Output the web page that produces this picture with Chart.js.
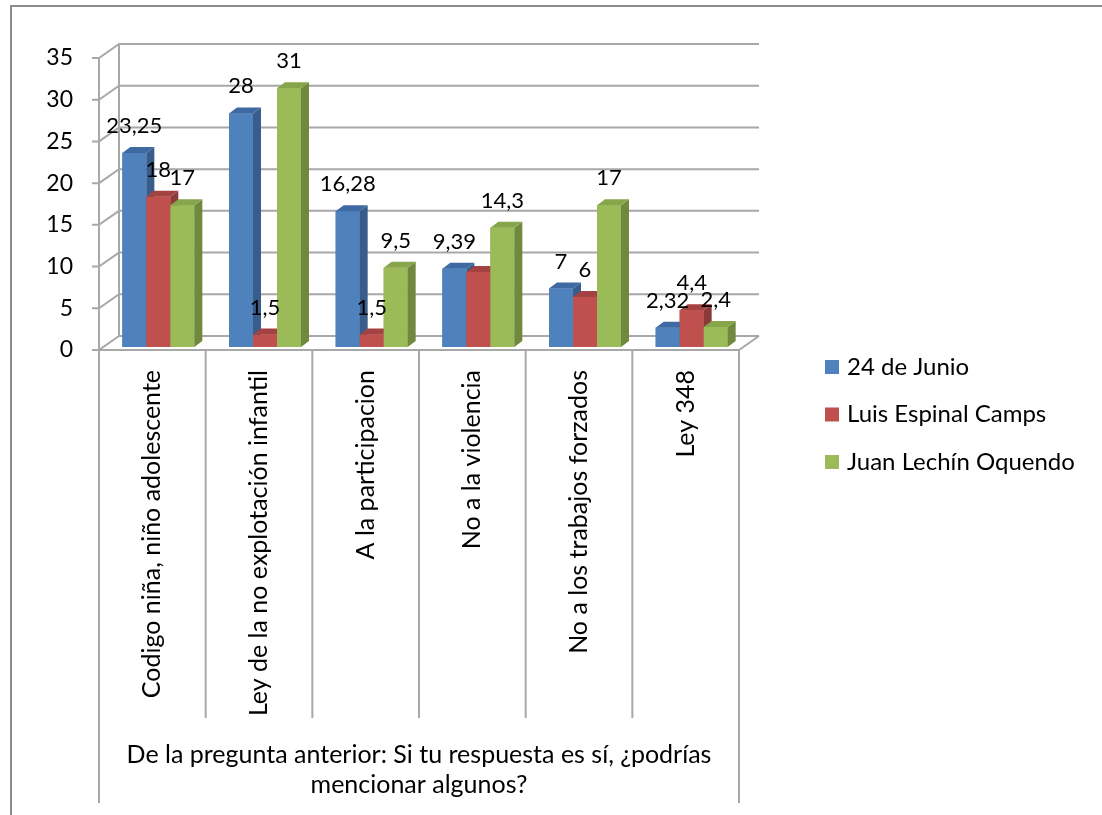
<!DOCTYPE html>
<html>
<head>
<meta charset="utf-8">
<script src="https://cdn.jsdelivr.net/npm/chart.js@4.4.1/dist/chart.umd.min.js"></script>
<style>
  body { margin: 0; background: #fff; }
</style>
</head>
<body>
<canvas id="myChart" width="1102" height="815"></canvas>
<script>
const categories = [
    'Codigo niña, niño adolescente',
    'Ley de la no explotación infantil',
    'A la participacion',
    'No a la violencia',
    'No a los trabajos forzados',
    'Ley 348',
];
const seriesNames = ['24 de Junio', 'Luis Espinal Camps', 'Juan Lechín Oquendo'];
const junioValues = [23.25, 28, 16.28, 9.39, 7, 2.32];
const espinalValues = [18, 1.5, 1.5, 9, 6, 4.4];
const lechinValues = [17, 31, 9.5, 14.3, 17, 2.4];
// the red bar of "No a la violencia" has no value label in the original
const espinalLabelShown = [true, true, true, false, true, true];
const yTicks = [0, 5, 10, 15, 20, 25, 30, 35];
const axisTitle = ['De la pregunta anterior: Si tu respuesta es sí, ¿podrías', 'mencionar algunos?'];

const frontColors = ['#4F81BD', '#C0504D', '#9BBB59'];
const sideColors = ['#385D8A', '#8C3A38', '#71893F'];
const topColors = ['#3E69A2', '#A34240', '#87A54B'];

const FONT = 'Lato, "Open Sans", sans-serif';
const GRID = '#a8a8a8';

// 3d look
const DX = 20, DY = -14;      // depth of walls / floor
const BDX = 8, BDY = -6;      // depth of bars
const SHIFT_X = 6, SHIFT_Y = -3;

function fmt(v) {
    return String(v).replace('.', ',');
}

const walls = {
    id: 'walls',
    beforeDatasetsDraw(chart) {
        const { ctx, chartArea: a, scales: { y } } = chart;
        ctx.save();

        // frame of the chart
        ctx.strokeStyle = '#8c8c8c';
        ctx.lineWidth = 2;
        ctx.beginPath();
        ctx.moveTo(11, 815);
        ctx.lineTo(11, 6);
        ctx.lineTo(1102, 6);
        ctx.stroke();

        ctx.strokeStyle = GRID;
        ctx.lineWidth = 2;
        ctx.beginPath();
        y.ticks.forEach(t => {
            const yF = y.getPixelForValue(t.value);
            ctx.moveTo(a.left - 7, yF);
            ctx.lineTo(a.left, yF);
            ctx.lineTo(a.left + DX, yF + DY);
            ctx.lineTo(a.right + DX, yF + DY);
        });
        // left wall edges
        ctx.moveTo(a.left + DX, a.top + DY);
        ctx.lineTo(a.left + DX, a.bottom + DY);
        ctx.moveTo(a.left, a.top);
        ctx.lineTo(a.left, 803);
        // floor
        ctx.moveTo(a.left, a.bottom);
        ctx.lineTo(a.right, a.bottom);
        ctx.lineTo(a.right + DX, a.bottom + DY);
        // category separators
        const n = categories.length;
        const step = (a.right - a.left) / n;
        for (let i = 1; i <= n; i++) {
            const xb = a.left + i * step;
            ctx.moveTo(xb, a.bottom);
            ctx.lineTo(xb, i === n ? 803 : 718);
        }
        ctx.stroke();
        ctx.restore();
    },
    beforeDatasetDraw(chart) {
        chart.ctx.save();
        chart.ctx.translate(SHIFT_X, SHIFT_Y);
    },
    afterDatasetDraw(chart) {
        chart.ctx.restore();
    },
    afterDatasetsDraw(chart) {
        const ctx = chart.ctx;
        ctx.save();
        ctx.translate(SHIFT_X, SHIFT_Y);
        // faces drawn series by series so that the next bar hides the side of the previous one
        chart.data.datasets.forEach((ds, i) => {
            chart.getDatasetMeta(i).data.forEach(bar => {
                const l = bar.x - bar.width / 2;
                const r = bar.x + bar.width / 2;
                const t = bar.y;
                const b = bar.base;
                ctx.fillStyle = frontColors[i];
                ctx.fillRect(l, t, r - l, b - t);
                ctx.fillStyle = sideColors[i];
                ctx.beginPath();
                ctx.moveTo(r, b);
                ctx.lineTo(r, t);
                ctx.lineTo(r + BDX, t + BDY);
                ctx.lineTo(r + BDX, b + BDY);
                ctx.closePath();
                ctx.fill();
                ctx.fillStyle = topColors[i];
                ctx.beginPath();
                ctx.moveTo(l, t);
                ctx.lineTo(r, t);
                ctx.lineTo(r + BDX, t + BDY);
                ctx.lineTo(l + BDX, t + BDY);
                ctx.closePath();
                ctx.fill();
            });
        });

        // value labels
        ctx.font = '22px ' + FONT;
        ctx.fillStyle = '#000';
        ctx.textAlign = 'center';
        ctx.textBaseline = 'middle';
        chart.data.datasets.forEach((ds, i) => {
            chart.getDatasetMeta(i).data.forEach((bar, j) => {
                if (ds.labelShown && !ds.labelShown[j]) return;
                ctx.fillText(fmt(ds.data[j]), bar.x, bar.y - 27);
            });
        });
        ctx.restore();
    },
    afterDraw(chart) {
        // legend
        const ctx = chart.ctx;
        ctx.save();
        ctx.font = '24px ' + FONT;
        ctx.textBaseline = 'middle';
        ctx.textAlign = 'left';
        chart.data.datasets.forEach((ds, i) => {
            const cy = 367 + i * 47.5;
            ctx.fillStyle = ds.backgroundColor;
            ctx.fillRect(825, cy - 7, 14, 14);
            ctx.fillStyle = '#000';
            ctx.fillText(ds.label, 847, cy);
        });
        ctx.restore();
    }
};

const data = {
    labels: categories,
    datasets: [{
        label: seriesNames[0],
        data: junioValues,
        backgroundColor: frontColors[0],
    }, {
        label: seriesNames[1],
        data: espinalValues,
        backgroundColor: frontColors[1],
        labelShown: espinalLabelShown,
    }, {
        label: seriesNames[2],
        data: lechinValues,
        backgroundColor: frontColors[2],
    }]
};

const config = {
    type: 'bar',
    data: data,
    options: {
        responsive: false,
        animation: false,
        layout: { padding: { left: 0, top: 58, right: 1102 - 739, bottom: 0 } },
        datasets: {
            bar: {
                categoryPercentage: 0.675,
                barPercentage: 1,
                borderWidth: 0,
                clip: false,
            }
        },
        plugins: {
            legend: { display: false },
            tooltip: { enabled: false },
        },
        scales: {
            x: {
                grid: { display: false, drawTicks: false },
                border: { display: false },
                ticks: {
                    autoSkip: false,
                    minRotation: 90,
                    maxRotation: 90,
                    padding: 20,
                    color: '#000',
                    font: { family: FONT, size: 25 },
                },
                title: {
                    display: true,
                    text: axisTitle,
                    color: '#000',
                    font: { family: FONT, size: 25, lineHeight: 1.2 },
                    padding: { top: 0, bottom: 15 },
                },
                afterFit: s => { s.height = 815 - 350; },
            },
            y: {
                min: 0,
                max: 35,
                grid: { display: false, drawTicks: false, tickLength: 0 },
                border: { display: false },
                afterBuildTicks: s => { s.ticks = yTicks.map(v => ({ value: v })); },
                ticks: {
                    padding: 26,
                    color: '#000',
                    font: { family: FONT, size: 23 },
                },
                afterFit: s => { s.width = 99; },
            }
        }
    },
    plugins: [walls]
};

new Chart(document.getElementById('myChart'), config);
</script>
</body>
</html>
